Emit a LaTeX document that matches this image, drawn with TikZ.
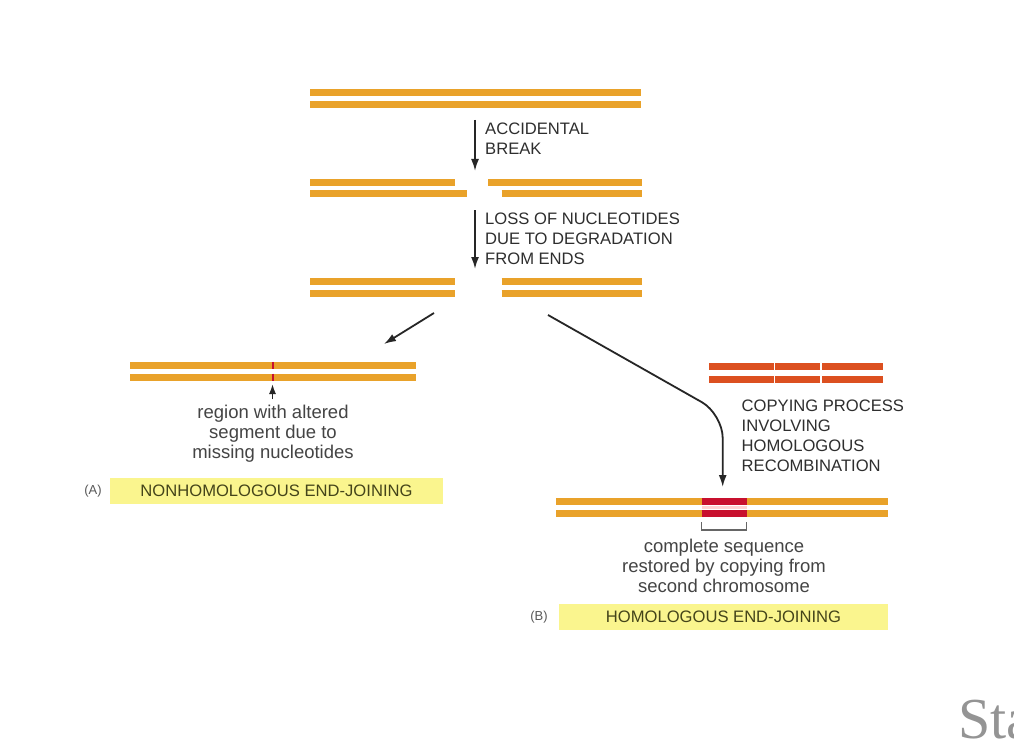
\documentclass[tikz,border=0pt]{standalone}
\usepackage{fontspec}
\setmainfont{Liberation Sans}
\newfontfamily\serifsta{Liberation Serif}
\usetikzlibrary{arrows.meta}
\definecolor{dnaor}{HTML}{E9A22A}
\definecolor{dnared}{HTML}{DC5020}
\definecolor{dnacrim}{HTML}{C8102E}
\definecolor{lblyel}{HTML}{FAF58E}
\definecolor{lbltxt}{HTML}{44441A}
\definecolor{captxt}{HTML}{2E2E2E}
\definecolor{lowtxt}{HTML}{444444}
\begin{document}
\begin{tikzpicture}[x=1pt,y=-1pt,
  strand/.style={line width=7pt,dnaor},
  hstrand/.style={line width=7pt,dnared},
  cstrand/.style={line width=7pt,dnacrim},
  arr/.style={line width=1.8pt,black!85,-{Latex[length=12pt,width=8pt]}},
  caps/.style={inner sep=0pt,align=left,text=captxt,font=\fontsize{16.6}{20}\selectfont},
  lowc/.style={inner sep=0pt,align=center,text=lowtxt,font=\fontsize{18.5}{19.8}\selectfont},
  ybox/.style={fill=lblyel,inner sep=0pt,text=lbltxt,font=\fontsize{16.6}{20}\selectfont},
  tag/.style={inner sep=0pt,text=captxt!80,font=\fontsize{13}{15}\selectfont}]
\useasboundingbox[fill=white] (0,0) rectangle (1014,754);

% row 1: intact chromosome
\draw[strand] (310,93) -- (641,93);
\draw[strand] (310,104.7) -- (641,104.7);

% arrow 1
\coordinate (a1s) at (475,120);
\coordinate (a1e) at (475,171);
\draw[arr] (a1s) -- (a1e);
\node[caps,anchor=north west] (t1) at (485,123) {ACCIDENTAL\\BREAK};

% row 2: break
\draw[strand] (310,182.7) -- (455,182.7);
\draw[strand] (310,194) -- (466.5,194);
\draw[strand] (488,182.7) -- (641.5,182.7);
\draw[strand] (501.5,194) -- (641.5,194);

% arrow 2
\coordinate (a2s) at (475,210);
\coordinate (a2e) at (475,269);
\draw[arr] (a2s) -- (a2e);
\node[caps,anchor=north west] (t2) at (485,213) {LOSS OF NUCLEOTIDES\\DUE TO DEGRADATION\\FROM ENDS};

% row 3: degraded ends
\draw[strand] (310,281.7) -- (455,281.7);
\draw[strand] (310,293) -- (455,293);
\draw[strand] (501.5,281.7) -- (641.5,281.7);
\draw[strand] (501.5,293) -- (641.5,293);

% left branch arrow
\coordinate (l1) at (434,313);
\coordinate (l2) at (384,344);
\draw[arr] (l1) -- (l2);

% nonhomologous result
\draw[strand] (130,365.3) -- (416,365.3);
\draw[strand] (130,377) -- (416,377);
\draw[line width=2pt,dnacrim] (272.5,361.8) -- (272.5,368.8);
\draw[line width=2pt,dnacrim] (272.5,373.5) -- (272.5,380.5);
\coordinate (m1) at (272.5,399);
\coordinate (m2) at (272.5,384);
\draw[line width=1.5pt,black!85,-{Latex[length=10pt,width=7pt]}] (m1) -- (m2);
\node[lowc,anchor=north] (t3) at (273,405) {region with altered\\segment due to\\missing nucleotides};

\node[ybox,minimum width=333pt,minimum height=26pt] (boxA) at (276.5,491) {NONHOMOLOGOUS END-JOINING};
\node[tag] (tagA) at (93,491) {(A)};

% homologous chromosome (template)
\draw[hstrand] (709,366.7) -- (882.7,366.7);
\draw[hstrand] (709,379.3) -- (882.7,379.3);
\draw[line width=1.6pt,white] (774.3,362) -- (774.3,384);
\draw[line width=1.6pt,white] (821,362) -- (821,384);
\node[caps,anchor=north west] (t4) at (741.5,400) {COPYING PROCESS\\INVOLVING\\HOMOLOGOUS\\RECOMBINATION};

% right branch curved arrow
\coordinate (r1) at (548,315);
\coordinate (rc) at (722.7,414);
\coordinate (r2) at (722.7,487);
\draw[arr,rounded corners=24pt] (r1) -- (rc) -- (r2);

% homologous result
\draw[strand] (556,501.7) -- (888.3,501.7);
\draw[strand] (556,513) -- (888.3,513);
\draw[cstrand] (701.7,501.7) -- (747.3,501.7);
\draw[cstrand] (701.7,513) -- (747.3,513);
\fill[pink!70] (701.7,506.1) rectangle (747.3,508.6);
\coordinate (b1) at (701.5,522);
\coordinate (b2) at (746.5,522);
\draw[line width=1.1pt,black!60] (b1) -- ++(0,8) -| (b2);
\node[lowc,anchor=north] (t5) at (724,539) {complete sequence\\restored by copying from\\second chromosome};

\node[ybox,minimum width=329pt,minimum height=26pt] (boxB) at (723.5,617) {HOMOLOGOUS END-JOINING};
\node[tag] (tagB) at (539,617) {(B)};

% watermark (cut off at the right edge, as in the reference)
\node[inner sep=0pt,anchor=base west,text=black!42,font=\serifsta\fontsize{58}{66}\selectfont] (sta) at (958,738) {Sta};
\end{tikzpicture}
\end{document}
